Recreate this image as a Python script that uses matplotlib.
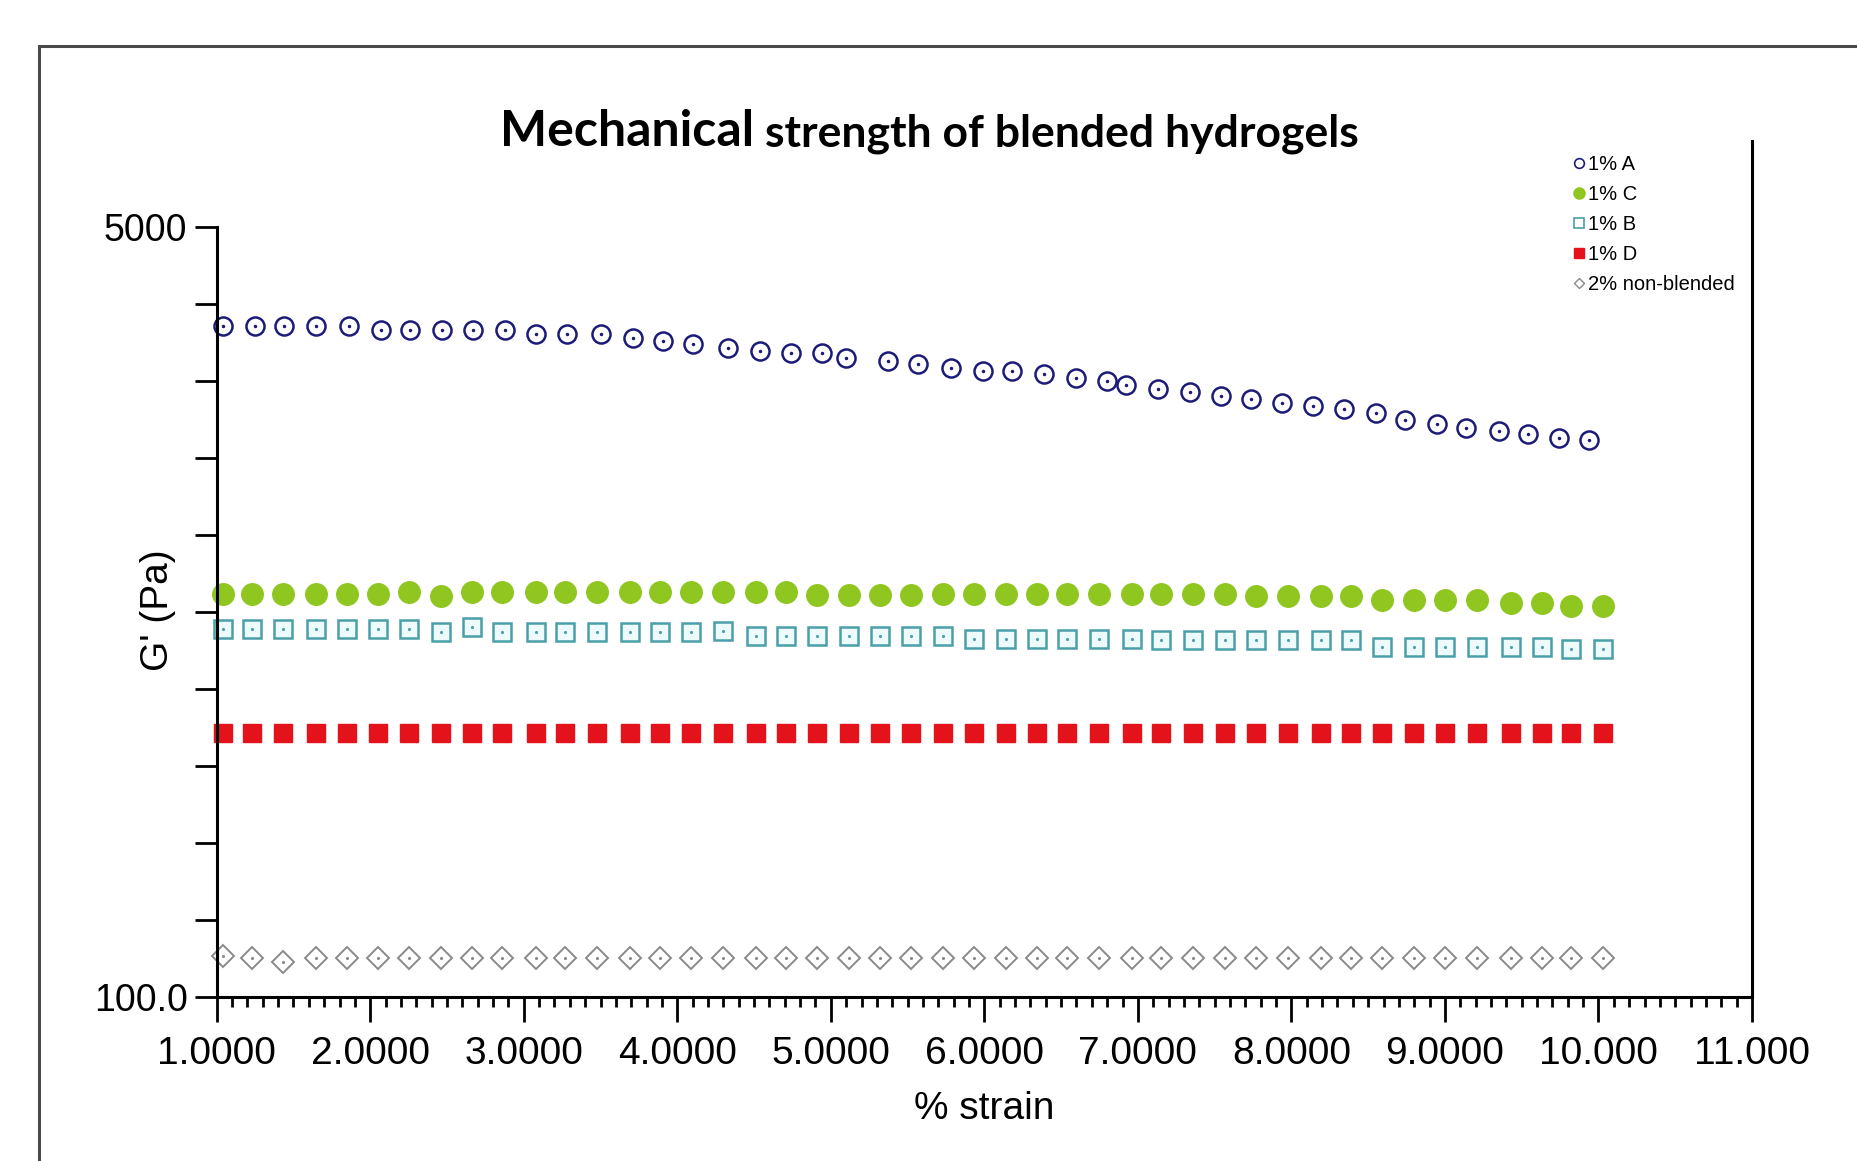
import matplotlib
matplotlib.use("Agg")
import matplotlib.pyplot as plt
from matplotlib.ticker import FixedLocator, MultipleLocator, NullFormatter
from matplotlib.patches import Rectangle

# strain values (%)
strain_a = [1.04, 1.25, 1.44, 1.65, 1.86, 2.07, 2.26, 2.47, 2.67, 2.88, 3.08, 3.28, 3.50, 3.71, 3.91,
            4.10, 4.33, 4.54, 4.74, 4.94, 5.10, 5.37, 5.57, 5.78, 5.99, 6.18, 6.39, 6.60, 6.80, 6.92,
            7.13, 7.34, 7.54, 7.74, 7.94, 8.14, 8.34, 8.55, 8.74, 8.95, 9.14, 9.35, 9.54, 9.74, 9.94]
strain = [1.04, 1.23, 1.43, 1.65, 1.85, 2.05, 2.25, 2.46, 2.66, 2.86, 3.08, 3.27, 3.48, 3.69, 3.89,
          4.09, 4.30, 4.51, 4.71, 4.91, 5.12, 5.32, 5.52, 5.73, 5.93, 6.14, 6.34, 6.54, 6.75, 6.96,
          7.15, 7.36, 7.57, 7.77, 7.98, 8.19, 8.39, 8.59, 8.80, 9.00, 9.21, 9.43, 9.63, 9.82, 10.03]

# G' (Pa)
g_a = [3026, 3026, 3026, 3026, 3026, 2960, 2960, 2960, 2960, 2960, 2901, 2901, 2901, 2840, 2800,
       2757, 2710, 2666, 2642, 2630, 2576, 2533, 2491, 2448, 2410, 2408, 2367, 2327, 2290, 2240,
       2200, 2160, 2120, 2085, 2049, 2016, 1980, 1945, 1875, 1840, 1805, 1775, 1745, 1715, 1690]
g_c = [775, 775, 775, 775, 775, 775, 781, 768, 781, 781, 781, 781, 781, 781, 781,
       781, 781, 781, 781, 770, 770, 770, 770, 775, 775, 775, 775, 775, 775, 775,
       775, 775, 775, 765, 765, 765, 765, 750, 750, 750, 750, 738, 738, 728, 730]
g_b = [649, 649, 649, 649, 649, 649, 649, 638, 654, 638, 638, 638, 638, 638, 638,
       638, 643, 627, 627, 627, 627, 627, 627, 627, 617, 617, 617, 617, 617, 617,
       612, 612, 612, 612, 612, 612, 612, 591, 591, 591, 591, 591, 591, 586, 586]
g_d = [383, 383, 383, 383, 383, 383, 383, 383, 383, 383, 383, 383, 383, 383, 383,
       383, 383, 383, 383, 383, 383, 383, 383, 383, 383, 383, 383, 383, 383, 383,
       383, 383, 383, 383, 383, 383, 383, 383, 383, 383, 383, 383, 383, 383, 383]
g_e = [123, 122, 119, 122, 122, 122, 122, 122, 122, 122, 122, 122, 122, 122, 122,
       122, 122, 122, 122, 122, 122, 122, 122, 122, 122, 122, 122, 122, 122, 122,
       122, 122, 122, 122, 122, 122, 122, 122, 122, 122, 122, 122, 122, 122, 122]

labels = ["1% A", "1% C", "1% B", "1% D", "2% non-blended"]
xticks = [1, 2, 3, 4, 5, 6, 7, 8, 9, 10, 11]
xticklabels = ["1.0000", "2.0000", "3.0000", "4.0000", "5.0000", "6.0000",
               "7.0000", "8.0000", "9.0000", "10.000", "11.000"]

sans = ["Liberation Sans", "DejaVu Sans"]
W, H = 1858, 1161

fig = plt.figure(figsize=(W / 100, H / 100), dpi=100)
fig.patch.set_facecolor("white")

# outer frame of the slide
fig.patches.append(Rectangle((39.5 / W, -0.1), 1.2, 1 - 46 / H + 0.1, transform=fig.transFigure,
                             fill=False, edgecolor="#4a4a4a", linewidth=2.2))

ax = fig.add_axes([216.7 / W, 1 - 996.7 / H, (1752 - 216.7) / W, (996.7 - 141) / H])
ax.set_yscale("log")
ax.set_xlim(1, 11)
ax.set_ylim(100, 7745)

navy = "#1c1c78"
teal = "#4a9fa8"
green = "#8fc61f"
red = "#e4121b"
grey = "#8a8a8a"
ax.plot(strain_a, g_a, ls="none", marker="o", ms=13, mfc="none", mec=navy, mew=1.8, clip_on=False)
ax.plot(strain_a, g_a, ls="none", marker=".", ms=3, color=navy, clip_on=False)
ax.plot(strain, g_c, ls="none", marker="o", ms=15.5, mfc=green, mec=green, clip_on=False)
ax.plot(strain, g_b, ls="none", marker="s", ms=12.5, mfc="#eefbfd", mec=teal, mew=1.8, clip_on=False)
ax.plot(strain, g_b, ls="none", marker=".", ms=2.5, color=teal, clip_on=False)
ax.plot(strain, g_d, ls="none", marker="s", ms=13.5, mfc=red, mec=red, clip_on=False)
ax.plot(strain, g_e, ls="none", marker="D", ms=11, mfc="none", mec=grey, mew=1.4, clip_on=False)
ax.plot(strain, g_e, ls="none", marker=".", ms=2.5, color=grey, clip_on=False)

# spines
ax.spines["top"].set_visible(False)
for s in ["left", "bottom", "right"]:
    ax.spines[s].set_linewidth(2.2)
    ax.spines[s].set_color("black")
ax.spines["left"].set_bounds(100, 5000)

# x ticks
ax.xaxis.set_major_locator(FixedLocator(xticks))
ax.set_xticklabels(xticklabels, family=sans, fontsize=28)
ax.xaxis.set_minor_locator(MultipleLocator(0.1))
ax.tick_params(axis="x", which="major", direction="out", length=18, width=2, pad=10)
ax.tick_params(axis="x", which="minor", direction="out", length=7, width=2)

# y ticks: evenly spaced in log between 100 and 5000
yt = [100 * 50 ** (k / 10) for k in range(11)]
ax.yaxis.set_major_locator(FixedLocator(yt))
ax.yaxis.set_minor_formatter(NullFormatter())
ax.yaxis.set_minor_locator(FixedLocator([]))
ylabs = ["100.0"] + [""] * 9 + ["5000"]
ax.set_yticklabels(ylabs, family=sans, fontsize=27)
ax.tick_params(axis="y", which="major", direction="out", length=16, width=2, pad=5)

ax.set_xlabel("% strain", family=sans, fontsize=28, labelpad=14)
ax.set_ylabel("G' (Pa)", family=sans, fontsize=28)
ax.yaxis.set_label_coords((176 - 216.7) / (1752 - 216.7), (996.7 - 610) / (996.7 - 141))

# legend
handles = [
    plt.Line2D([], [], ls="none", marker="o", ms=7, mfc="none", mec=navy, mew=1.2),
    plt.Line2D([], [], ls="none", marker="o", ms=8, mfc=green, mec=green),
    plt.Line2D([], [], ls="none", marker="s", ms=7, mfc="white", mec=teal, mew=1.2),
    plt.Line2D([], [], ls="none", marker="s", ms=7, mfc=red, mec=red),
    plt.Line2D([], [], ls="none", marker="D", ms=5.5, mfc="none", mec=grey, mew=1.0),
]
ax.legend(handles, labels, loc="upper left", bbox_to_anchor=(1574 / W, 1 - 155 / H),
          bbox_transform=fig.transFigure, frameon=False, handlelength=0.5, handletextpad=0.2,
          labelspacing=0.55, borderaxespad=0, borderpad=0,
          prop={"family": sans, "size": 14.5})

# title
ty = 1 - 146 / H
fig.text(754 / W, ty, "Mechanical", ha="right", va="baseline", family=["Lato", "DejaVu Sans"],
         fontweight="bold", fontsize=36)
fig.text(765 / W, ty, "strength of blended hydrogels", ha="left", va="baseline",
         family=["Lato", "DejaVu Sans"], fontweight="bold", fontsize=32)

fig.savefig("out.png", dpi=100, facecolor="white")
